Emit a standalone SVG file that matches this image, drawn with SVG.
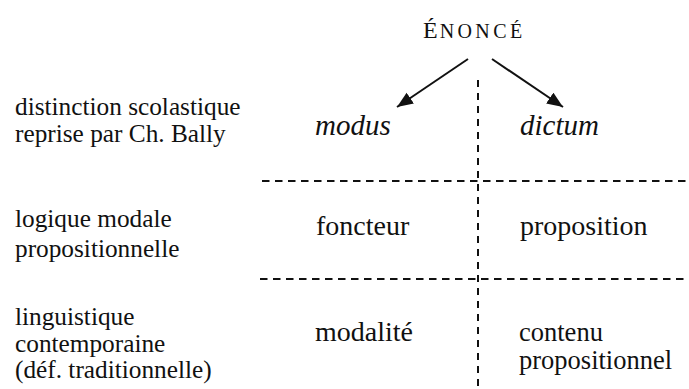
<svg xmlns="http://www.w3.org/2000/svg" width="689" height="389" viewBox="0 0 689 389">
<style>
text{font-family:'Liberation Serif','DejaVu Serif','Noto Serif',serif;fill:#111}
.lab{font-size:25.3px}
.cell{font-size:28px}
.cell2{font-size:26.5px}
.it{font-size:29px;font-style:italic}
.dash{stroke:#111;stroke-width:2;fill:none}
.h{stroke-dasharray:7.5 5.5}
.v{stroke-dasharray:7 6}
.arr{stroke:#111;stroke-width:2;fill:none;marker-end:url(#ah)}
</style>
<defs>
<marker id="ah" markerUnits="userSpaceOnUse" markerWidth="17" markerHeight="14" refX="16" refY="6.5" orient="auto">
<path d="M0,0 L16,6.5 L0,13 z" fill="#111"/>
</marker>
</defs>
<rect width="689" height="389" fill="#fff"/>
<g id="connectors">
<line class="arr" x1="468" y1="59" x2="397" y2="107"/>
<line class="arr" x1="492" y1="59" x2="563" y2="107"/>
<line class="dash v" x1="478" y1="80" x2="478" y2="389"/>
<line class="dash h" x1="262" y1="181" x2="689" y2="181"/>
<line class="dash h" x1="260" y1="279" x2="689" y2="279"/>
</g>
<g id="enonce">
<text x="423" y="38" style="font-size:24px;letter-spacing:2px">É<tspan style="font-size:20px;letter-spacing:3.4px">NONCÉ</tspan></text>
</g>
<g id="row1-label">
<text class="lab" x="15" y="115">distinction scolastique</text>
<text class="lab" x="15" y="142">reprise par Ch. Bally</text>
</g>
<g id="modus"><text class="it" x="315" y="135">modus</text></g>
<g id="dictum"><text class="it" x="520" y="135">dictum</text></g>
<g id="row2-label">
<text class="lab" x="15" y="227">logique modale</text>
<text class="lab" x="15" y="257">propositionnelle</text>
</g>
<g id="foncteur"><text class="cell" x="316" y="235">foncteur</text></g>
<g id="proposition"><text class="cell" x="520" y="235">proposition</text></g>
<g id="row3-label">
<text class="lab" x="15" y="325">linguistique</text>
<text class="lab" x="15" y="352">contemporaine</text>
<text class="lab" x="15" y="378">(déf. traditionnelle)</text>
</g>
<g id="modalite"><text class="cell" x="315" y="341">modalité</text></g>
<g id="contenu">
<text class="cell2" x="519" y="341">contenu</text>
<text class="cell2" x="519" y="369">propositionnel</text>
</g>
</svg>
